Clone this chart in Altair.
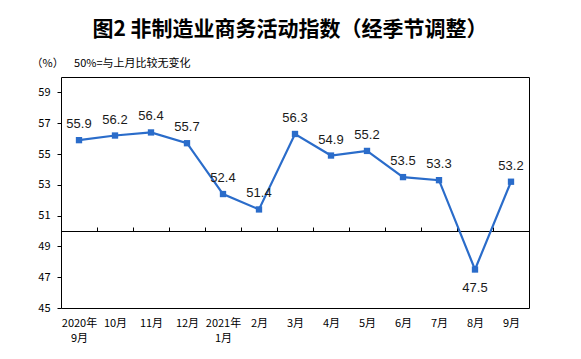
import json
import altair as alt
import pandas as pd

title_text = "图2  非制造业商务活动指数（经季节调整）"
y_title = "（%）\u3000\u00a0\u00a050%=与上月比较无变化"
months = ["2020年|9月", "10月", "11月", "12月", "2021年|1月", "2月", "3月",
          "4月", "5月", "6月", "7月", "8月", "9月"]
values = [55.9, 56.2, 56.4, 55.7, 52.4, 51.4, 56.3, 54.9, 55.2, 53.5, 53.3, 47.5, 53.2]
label_pos = ["above"] * 11 + ["below"] + ["above"]
y_ticks = [45, 47, 49, 51, 53, 55, 57, 59]
band_edges = [i + 0.5 for i in range(12)]

BLUE = "#2a6cca"
CJK = "Noto Sans CJK SC"

df = pd.DataFrame({
    "idx": list(range(len(months))),
    "month": months,
    "value": values,
    "pos": label_pos,
})

xscale = alt.Scale(domain=[-0.5, len(months) - 0.5], nice=False, zero=False)
yscale = alt.Scale(domain=[45, 60], nice=False, zero=False)

label_expr = "split(" + json.dumps(months, ensure_ascii=False) + "[datum.value], '|')"

y_axis = alt.Axis(
    values=y_ticks, grid=False, domain=False, tickSize=4, tickColor="#000",
    labelPadding=7, labelFontSize=11, labelFont=CJK, labelColor="#000",
    title=y_title, titleAngle=0, titleAlign="left", titleBaseline="middle",
    titleX=-30, titleY=-14, titleFontWeight="normal", titleFontSize=11,
    titleFont=CJK, titleColor="#000")

Y = alt.Y("value:Q", scale=yscale, axis=y_axis)

base = alt.Chart(df)

line = base.mark_line(color=BLUE, strokeWidth=2.2).encode(
    x=alt.X("idx:Q", scale=xscale, axis=alt.Axis(
        orient="bottom", values=list(range(len(months))), labelExpr=label_expr,
        ticks=False, domain=False, grid=False, labelPadding=9, title=None,
        labelFontSize=11, labelFont=CJK, labelLineHeight=15, labelColor="#000",
        labelAngle=0, labelOverlap=False, labelFlush=False, labelBound=False)),
    y=Y,
)

points = base.mark_square(size=40, color=BLUE, opacity=1).encode(
    x=alt.X("idx:Q", scale=xscale, axis=alt.Axis(
        orient="top", offset=-154, values=band_edges, labels=False, tickSize=4,
        tickColor="#000", domain=True, domainColor="#000", domainWidth=1,
        grid=False, title=None)),
    y=Y,
)

above = base.transform_filter(alt.datum.pos == "above").mark_text(
    dy=-16, baseline="middle", fontSize=13, font="Liberation Sans", color="#1a1a1a"
).encode(
    x=alt.X("idx:Q", scale=xscale, axis=None),
    y=Y,
    text=alt.Text("value:Q", format=".1f"),
)

below = base.transform_filter(alt.datum.pos == "below").mark_text(
    dy=18, baseline="middle", fontSize=13, font="Liberation Sans", color="#1a1a1a"
).encode(
    x=alt.X("idx:Q", scale=xscale, axis=None),
    y=Y,
    text=alt.Text("value:Q", format=".1f"),
)

chart = alt.layer(line, points, above, below).resolve_axis(x="independent").properties(
    width=468, height=231,
    autosize=alt.AutoSizeParams(type="none"),
    padding={"left": 53, "top": 69, "right": 40, "bottom": 40},
    title=alt.TitleParams(text=title_text, font=CJK, fontSize=21, fontWeight="bold",
                          anchor="middle", offset=17, color="#000", dx=-5),
).configure_view(stroke="#000", strokeWidth=1)

chart.save("out.html", embed_options={"renderer": "svg", "actions": False})
